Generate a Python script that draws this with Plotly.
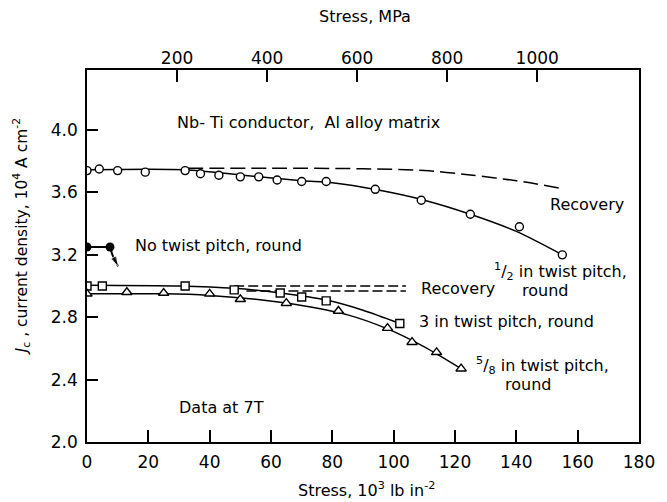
import plotly.graph_objects as go

# ---------------- data ----------------
# 1/2 in twist pitch, round (open circles)
half_x = [0, 4, 10, 19, 32, 37, 43, 50, 56, 62, 70, 78, 94, 109, 125, 141, 155]
half_y = [3.74, 3.75, 3.74, 3.73, 3.74, 3.72, 3.71, 3.70, 3.70, 3.68, 3.67, 3.67, 3.62, 3.55, 3.46, 3.38, 3.20]
half_fit_x = [0, 32, 50, 70, 80, 95, 110, 125, 140, 155]
half_fit_y = [3.745, 3.745, 3.712, 3.675, 3.662, 3.615, 3.55, 3.46, 3.35, 3.20]
half_rec_x = [33, 60, 90, 110, 125, 140, 155]
half_rec_y = [3.755, 3.755, 3.752, 3.74, 3.712, 3.675, 3.625]

# 3 in twist pitch, round (open squares)
three_x = [0, 5, 32, 48, 63, 70, 78, 102]
three_y = [3.00, 3.00, 3.00, 2.975, 2.955, 2.93, 2.905, 2.76]
three_fit_x = [0, 30, 48, 63, 78, 90, 102]
three_fit_y = [3.005, 3.0, 2.985, 2.955, 2.91, 2.845, 2.76]
three_rec_x = [48, 104]
three_rec_y = [3.0, 3.0]

# 5/8 in twist pitch, round (open triangles)
five_x = [0, 13, 25, 40, 50, 65, 82, 98, 106, 114, 122]
five_y = [2.95, 2.96, 2.955, 2.95, 2.915, 2.89, 2.84, 2.73, 2.64, 2.575, 2.47]
five_fit_x = [0, 25, 40, 55, 70, 85, 98, 110, 122]
five_fit_y = [2.95, 2.95, 2.94, 2.915, 2.875, 2.815, 2.725, 2.61, 2.47]
five_rec_x = [52, 104]
five_rec_y = [2.968, 2.968]

# No twist pitch, round (filled circles, then failure arrow)
none_x = [0, 7.5]
none_y = [3.25, 3.25]
none_arrow_x = [7.5, 8.3, 10.2]
none_arrow_y = [3.25, 3.20, 3.125]

ksi_ticks = [0, 20, 40, 60, 80, 100, 120, 140, 160, 180]
ksi_labels = [str(v) for v in ksi_ticks]
mpa_ticks = [200, 400, 600, 800, 1000]
mpa_labels = [str(v) for v in mpa_ticks]
jc_ticks = [2.0, 2.4, 2.8, 3.2, 3.6, 4.0]
jc_labels = ["2.0", "2.4", "2.8", "3.2", "3.6", "4.0"]

FONT = "DejaVu Sans"
INK = "black"

fig = go.Figure()

def curve(x, y, dash="solid", width=1.5, shape="spline"):
    fig.add_trace(go.Scatter(x=x, y=y, mode="lines", line=dict(color=INK, width=width, dash=dash, shape=shape, smoothing=0.8),
                             showlegend=False, hoverinfo="skip"))

def pts(x, y, symbol, size):
    fig.add_trace(go.Scatter(x=x, y=y, mode="markers",
                             marker=dict(symbol=symbol, size=size, color="white", line=dict(color=INK, width=1.4)),
                             showlegend=False, hoverinfo="skip"))

curve(half_fit_x, half_fit_y)
curve(half_rec_x, half_rec_y, dash="15px,6px")
curve(three_fit_x, three_fit_y)
curve(three_rec_x, three_rec_y, dash="10px,4px")
curve(five_fit_x, five_fit_y)
curve(five_rec_x, five_rec_y, dash="10px,4px")

pts(half_x, half_y, "circle", 8)
pts(three_x, three_y, "square", 8)
pts(five_x, five_y, "triangle-up", 9)

# no twist pitch
fig.add_trace(go.Scatter(x=none_x, y=none_y, mode="lines+markers",
                         line=dict(color=INK, width=2),
                         marker=dict(symbol="circle", size=9, color=INK),
                         showlegend=False, hoverinfo="skip"))
fig.add_trace(go.Scatter(x=none_arrow_x, y=none_arrow_y, mode="lines+markers",
                         line=dict(color=INK, width=2, shape="spline"),
                         marker=dict(symbol="arrow", size=[0, 0, 11], color=INK, angleref="previous"),
                         showlegend=False, hoverinfo="skip"))

# dummy trace to register the top MPa axis
fig.add_trace(go.Scatter(x=mpa_ticks, y=[None] * len(mpa_ticks), xaxis="x2", yaxis="y",
                         mode="markers", showlegend=False, hoverinfo="skip"))

axis_common = dict(showgrid=False, zeroline=False, ticks="inside", tickcolor=INK, tickwidth=1.5,
                   linecolor=INK, linewidth=1.5, tickfont=dict(family=FONT, size=17, color=INK))

fig.update_layout(
    width=667, height=502,
    margin=dict(l=87, r=17, t=70, b=60),
    paper_bgcolor="white", plot_bgcolor="white",
    font=dict(family=FONT, color=INK),
    xaxis=dict(range=[0, 180], tickvals=ksi_ticks, ticktext=ksi_labels, ticklen=12,
               showline=True, mirror=True, ticklabelstandoff=4, **axis_common),
    xaxis2=dict(range=[0, 1226], tickvals=mpa_ticks, ticktext=mpa_labels, ticklen=12,
                overlaying="x", side="top", showline=False, ticklabelstandoff=2, **axis_common),
    yaxis=dict(range=[2.0, 4.385], tickvals=jc_ticks, ticktext=jc_labels, ticklen=11,
               showline=True, mirror=True, ticklabelstandoff=4, **axis_common),
)

def px2paper(px, py):
    return (px - 87) / 563, (442 - py) / 372

def note(text, px, py, size=16, xanchor="left", angle=0):
    xp, yp = px2paper(px, py)
    fig.add_annotation(text=text, x=xp, y=yp, xref="paper", yref="paper", showarrow=False,
                       xanchor=xanchor, yanchor="middle", textangle=angle,
                       font=dict(family=FONT, size=size, color=INK))

note("Stress, MPa", 371, 17, size=16, xanchor="center")
note("Stress, 10<sup>3</sup> lb in<sup>-2</sup>", 372, 490, size=16, xanchor="center")
note("<i>J</i><sub>c</sub> , current density, 10<sup>4</sup> A cm<sup>-2</sup>", 20, 237, size=15.5,
     xanchor="center", angle=-90)

note("Nb- Ti conductor,  Al alloy matrix", 177, 122)
note("No twist pitch, round", 134, 245)
note("Recovery", 557, 204)
note("<sup>1</sup>/<sub>2</sub> in twist pitch,", 500, 271)
note("round", 529, 290)
note("Recovery", 426, 288)
note("3 in twist pitch, round", 424, 321)
note("<sup>5</sup>/<sub>8</sub> in twist pitch,", 482, 365)
note("round", 511, 384)
note("Data at 7T", 179, 407)

fig.write_html("out.html")
